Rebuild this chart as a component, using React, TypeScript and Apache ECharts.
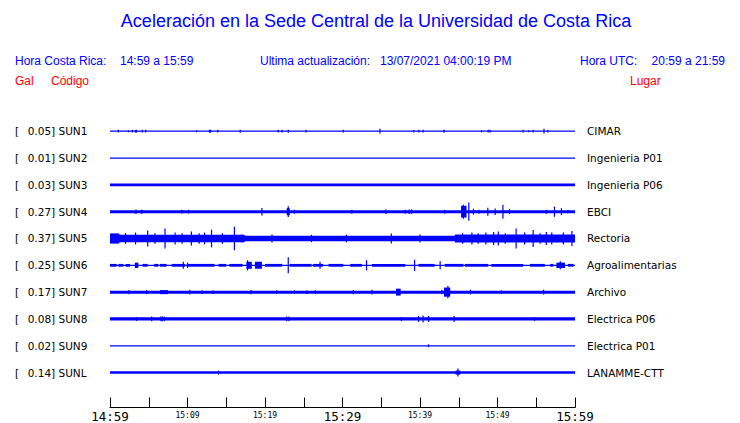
import React, { useEffect, useRef } from "react";
import * as echarts from "echarts";

const TITLE = "Aceleración en la Sede Central de la Universidad de Costa Rica";
const HORA_CR_LABEL = "Hora Costa Rica:";
const HORA_CR_VALUE = "14:59 a 15:59";
const UPDATE_LABEL = "Ultima actualización:";
const UPDATE_VALUE = "13/07/2021 04:00:19 PM";
const HORA_UTC_LABEL = "Hora UTC:";
const HORA_UTC_VALUE = "20:59 a 21:59";

const STATIONS = ["SUN1", "SUN2", "SUN3", "SUN4", "SUN5", "SUN6", "SUN7", "SUN8", "SUN9", "SUNL"];
const GAL = ["0.05", "0.01", "0.03", "0.27", "0.37", "0.25", "0.17", "0.08", "0.02", "0.14"];
const PLACES = [
  "CIMAR",
  "Ingenieria P01",
  "Ingenieria P06",
  "EBCI",
  "Rectoria",
  "Agroalimentarias",
  "Archivo",
  "Electrica P06",
  "Electrica P01",
  "LANAMME-CTT",
];

// minutes after 14:59
const TICK_LABELS = ["14:59", "", "15:09", "", "15:19", "", "15:29", "", "15:39", "", "15:49", "", "15:59"];
const MAJOR_TICKS = [0, 6, 12];

// background half-amplitude of every trace (fraction of the row spacing)
const BASE_AMP = [0.024, 0.024, 0.05, 0.056, 0.1, 0.022, 0.056, 0.062, 0.024, 0.046];

// bursts: [start minute, end minute, half amplitude]
const SUN1 = [
  [1.08, 1.08, 0.05], [2.37, 2.37, 0.035], [2.88, 2.88, 0.05], [3.2, 3.5, 0.05], [4.17, 4.17, 0.05],
  [4.6, 4.6, 0.05], [11.18, 11.18, 0.035], [12.75, 13.05, 0.055], [13.9, 13.9, 0.05], [16.8, 16.8, 0.055],
  [21.7, 21.7, 0.05], [22.2, 22.2, 0.05], [23.0, 23.0, 0.055], [25.3, 25.3, 0.05], [30.1, 30.1, 0.05],
  [34.75, 34.9, 0.09], [39.2, 39.2, 0.045], [39.85, 39.85, 0.05], [40.4, 40.4, 0.05], [43.0, 43.2, 0.05],
  [47.95, 47.95, 0.035], [48.8, 48.8, 0.05], [49.05, 49.05, 0.05], [53.3, 53.3, 0.05], [54.05, 54.05, 0.04],
  [54.6, 54.6, 0.05], [56.0, 56.0, 0.09], [56.5, 56.5, 0.05],
];
const SUN2: number[][] = [];
const SUN3: number[][] = [];
const SUN4 = [
  [3.35, 3.35, 0.085], [4.0, 4.2, 0.075], [9.25, 9.25, 0.07], [10.15, 10.15, 0.07], [19.6, 19.6, 0.14],
  [22.8, 23.2, 0.13], [23.0, 23.0, 0.2], [23.8, 23.8, 0.075], [31.2, 31.2, 0.075], [35.6, 35.6, 0.085],
  [38.1, 38.1, 0.075], [38.6, 38.6, 0.085], [38.9, 38.9, 0.085], [43.2, 43.2, 0.075], [45.3, 46.0, 0.22],
  [45.6, 45.6, 0.26], [46.3, 46.3, 0.34], [46.9, 46.9, 0.11], [47.6, 47.6, 0.075], [48.75, 48.75, 0.15],
  [49.7, 49.7, 0.12], [50.7, 50.7, 0.26], [51.5, 51.6, 0.09], [56.3, 56.3, 0.075], [57.35, 57.35, 0.19],
  [58.25, 58.25, 0.13], [59.1, 59.1, 0.06],
];
const SUN5 = [
  [0, 17.4, 0.14], [44.5, 60, 0.15], [0, 1.2, 0.19], [2.0, 2.0, 0.2], [3.3, 3.3, 0.22], [4.86, 4.86, 0.3],
  [5.8, 5.8, 0.2], [7.1, 7.1, 0.37], [8.4, 8.4, 0.22], [9.3, 9.3, 0.2], [10.5, 10.5, 0.26], [11.5, 11.5, 0.2],
  [12.2, 12.2, 0.22], [13.1, 13.1, 0.33], [14.5, 14.5, 0.2], [16.05, 16.05, 0.44], [17.0, 17.0, 0.15],
  [20.9, 20.9, 0.15], [26.0, 26.0, 0.14], [30.5, 30.5, 0.14], [36.3, 36.3, 0.19], [40.0, 40.0, 0.15],
  [45.5, 45.5, 0.2], [46.7, 46.7, 0.22], [47.5, 47.5, 0.2],
  [48.5, 48.5, 0.22], [49.5, 49.5, 0.24], [50.1, 50.1, 0.26], [51.0, 51.0, 0.2], [52.4, 52.4, 0.37],
  [53.5, 53.5, 0.22], [54.6, 54.6, 0.32], [55.5, 55.5, 0.2], [56.3, 56.3, 0.24], [57.0, 57.0, 0.22],
  [58.5, 58.5, 0.22], [59.6, 59.6, 0.28],
];
const SUN6 = [
  [0, 0.86, 0.052], [1.08, 1.72, 0.052], [2.0, 2.58, 0.052], [3.2, 3.66, 0.1], [4.2, 4.86, 0.052],
  [5.7, 6.24, 0.052], [6.45, 7.3, 0.052], [7.96, 9.68, 0.052], [9.46, 9.46, 0.13], [9.9, 13.5, 0.052],
  [10.0, 10.0, 0.1], [14.0, 15.0, 0.052], [15.4, 17.1, 0.052], [17.6, 18.3, 0.13], [17.75, 17.75, 0.19],
  [18.7, 19.6, 0.13], [20.0, 22.2, 0.052], [23.0, 23.0, 0.3], [23.2, 26.0, 0.052], [26.2, 27.5, 0.052],
  [27.1, 27.1, 0.13], [28.2, 30.1, 0.052], [31.0, 32.5, 0.052], [33.1, 33.1, 0.19], [33.8, 38.1, 0.052],
  [39.3, 39.3, 0.21], [39.8, 41.9, 0.052], [42.6, 42.6, 0.15], [43.2, 45.6, 0.052], [45.8, 48.8, 0.052],
  [49.2, 53.3, 0.052], [54.2, 56.1, 0.052], [56.8, 57.2, 0.052], [57.6, 58.7, 0.1], [58.1, 58.1, 0.15],
  [59.1, 59.8, 0.052],
];
const SUN7 = [
  [2.45, 2.45, 0.075], [4.73, 4.73, 0.075], [6.45, 7.5, 0.075], [10.3, 10.3, 0.09], [11.9, 11.9, 0.07],
  [13.3, 13.3, 0.07], [18.2, 18.2, 0.075], [21.5, 21.5, 0.07], [23.8, 23.8, 0.07], [25.4, 25.4, 0.07],
  [26.5, 26.5, 0.07], [31.4, 31.4, 0.075], [33.8, 33.8, 0.09], [36.9, 37.5, 0.13], [42.8, 42.8, 0.075],
  [43.1, 43.9, 0.17], [43.6, 43.6, 0.23], [46.5, 46.5, 0.09], [50.5, 50.5, 0.07], [55.95, 55.95, 0.09],
];
const SUN8 = [
  [3.44, 3.44, 0.075], [5.38, 5.38, 0.09], [6.58, 6.58, 0.09], [6.75, 6.75, 0.09], [7.0, 7.0, 0.09],
  [22.8, 22.8, 0.09], [23.1, 23.1, 0.09], [37.6, 37.6, 0.075], [39.8, 39.8, 0.11], [40.4, 40.4, 0.13],
  [41.1, 41.1, 0.11], [44.4, 44.4, 0.11], [54.8, 54.8, 0.075],
];
const SUN9 = [[41.1, 41.1, 0.055]];
const SUNL = [[14.0, 14.0, 0.075], [44.6, 45.2, 0.075], [44.9, 44.9, 0.15]];

const BURSTS = [SUN1, SUN2, SUN3, SUN4, SUN5, SUN6, SUN7, SUN8, SUN9, SUNL];

const BLUE = "#0000ff";
const RED = "#ff0000";
const SANS = '"Liberation Sans", Arial, sans-serif';
const LABEL_FONT = '"DejaVu Sans", sans-serif';
const MONO = '"DejaVu Sans Mono", monospace';

export default function App() {
  const ref = useRef<HTMLDivElement>(null);

  useEffect(() => {
    if (!ref.current) return;
    const chart = echarts.init(ref.current, undefined, { renderer: "svg" });

    const data: number[][] = [];
    STATIONS.forEach((_, i) => {
      data.push([i, 0, 60, BASE_AMP[i]]);
      BURSTS[i].forEach((b) => data.push([i, b[0], b[1], b[2]]));
    });

    const headerText = (text: string, x: number, y: number, fill: string, size: number, align = "left") => ({
      type: "text",
      x,
      y,
      silent: true,
      style: { text, fill, fontSize: size, fontFamily: SANS, align, verticalAlign: "middle" },
    });

    chart.setOption({
      animation: false,
      backgroundColor: "#ffffff",
      graphic: [
        headerText(TITLE, 376, 21, BLUE, 18, "center"),
        headerText(HORA_CR_LABEL, 15, 60.5, BLUE, 12),
        headerText(HORA_CR_VALUE, 120, 60.5, BLUE, 12),
        headerText(UPDATE_LABEL, 260, 60.5, BLUE, 12),
        headerText(UPDATE_VALUE, 380, 60.5, BLUE, 12),
        headerText(HORA_UTC_LABEL, 580, 60.5, BLUE, 12),
        headerText(HORA_UTC_VALUE, 725, 60.5, BLUE, 12, "right"),
        headerText("Gal", 15, 80.5, RED, 12),
        headerText("Código", 51, 80.5, RED, 12),
        headerText("Lugar", 630, 80.5, RED, 12),
      ],
      grid: { left: 110, right: 165, top: 117.8, height: 270, containLabel: false },
      xAxis: {
        type: "value",
        min: 0,
        max: 60,
        interval: 5,
        offset: 21.5,
        axisLine: { show: true, lineStyle: { color: "#000", width: 1 } },
        axisTick: { show: true, inside: true, length: 10, lineStyle: { color: "#000", width: 1 } },
        splitLine: { show: false },
        axisLabel: {
          margin: 2,
          showMinLabel: true,
          showMaxLabel: true,
          hideOverlap: false,
          formatter: (v: number) => {
            const i = Math.round(v / 5);
            const t = TICK_LABELS[i];
            if (!t) return "";
            return MAJOR_TICKS.includes(i) ? `{big|${t}}` : `{small|${t}}`;
          },
          rich: {
            big: { fontFamily: MONO, fontSize: 12.5, lineHeight: 14, color: "#000" },
            small: { fontFamily: MONO, fontSize: 8, lineHeight: 12, color: "#000" },
          },
        },
      },
      yAxis: [
        {
          type: "category",
          data: STATIONS,
          inverse: true,
          position: "left",
          axisLine: { show: false },
          axisTick: { show: false },
          splitLine: { show: false },
          axisLabel: {
            align: "left",
            margin: 95,
            color: "#000",
            fontFamily: LABEL_FONT,
            fontSize: 10.5,
            formatter: (v: string, i: number) => `{b|[}{v|${GAL[i]}]} {c|${v}}`,
            rich: {
              b: { width: 12.7, fontFamily: LABEL_FONT, fontSize: 10.5, color: "#000" },
              v: { fontFamily: LABEL_FONT, fontSize: 10.5, color: "#000" },
              c: { fontFamily: LABEL_FONT, fontSize: 10.5, color: "#000" },
            },
          },
        },
        {
          type: "category",
          data: PLACES,
          inverse: true,
          position: "right",
          axisLine: { show: false },
          axisTick: { show: false },
          splitLine: { show: false },
          axisLabel: {
            align: "left",
            margin: 12,
            color: "#000",
            fontFamily: LABEL_FONT,
            fontSize: 10.5,
          },
        },
      ],
      series: [
        {
          type: "custom",
          xAxisIndex: 0,
          yAxisIndex: 0,
          clip: false,
          silent: true,
          dimensions: ["row", "start", "end", "amp"],
          encode: { x: [1, 2], y: 0 },
          data,
          renderItem: (params: any, api: any) => {
            const row = api.value(0);
            const s = api.value(1);
            const e = api.value(2);
            const a = api.value(3);
            const c1 = api.coord([s, row]);
            const c2 = api.coord([e, row]);
            const band = api.size([1, 1])[1];
            const h = Math.max(a * band * 2, 1.2);
            const rawW = c2[0] - c1[0];
            const w = Math.max(rawW, 1.2);
            return {
              type: "rect",
              shape: { x: c1[0] - (w - rawW) / 2, y: c1[1] - h / 2, width: w, height: h },
              style: { fill: BLUE },
            };
          },
        },
      ],
    });

    return () => chart.dispose();
  }, []);

  return (
    <div
      ref={ref}
      style={{ position: "fixed", left: 0, top: 0, width: 740, height: 423, background: "#fff" }}
    />
  );
}
